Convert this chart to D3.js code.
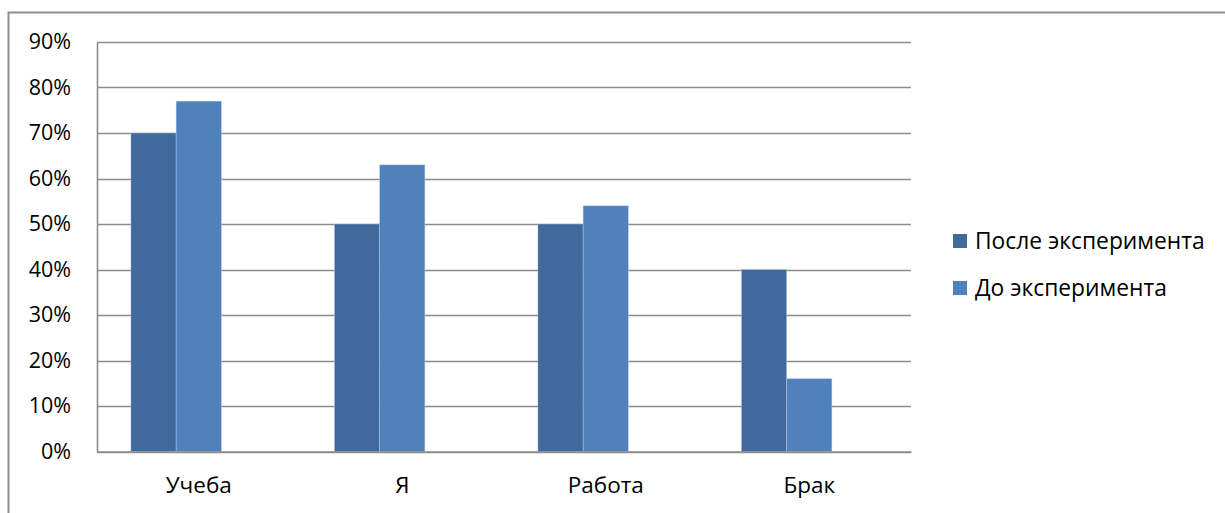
<!DOCTYPE html>
<html>
<head>
<meta charset="utf-8">
<script src="https://cdn.jsdelivr.net/npm/d3@7"></script>
<style>
  html, body { margin: 0; padding: 0; background: #fff; }
  svg { display: block; font-family: "Open Sans", "Noto Sans", sans-serif; }
</style>
</head>
<body>
<svg id="chart" width="1225" height="513"></svg>
<script>
// Categories and series values (share of respondents)
const categories = ["Учеба", "Я", "Работа", "Брак"];
const seriesNames = ["После эксперимента", "До эксперимента"];
const after = [0.70, 0.50, 0.50, 0.40];
const before = [0.77, 0.63, 0.54, 0.16];
const yTicks = [0, 0.1, 0.2, 0.3, 0.4, 0.5, 0.6, 0.7, 0.8, 0.9];

const colors = ["#41699B", "#4F81BD"];
const seriesValues = [after, before];

const svg = d3.select("#chart");
const plot = { left: 97, right: 911, top: 42, bottom: 451.5 };

// Outer chart frame (right and bottom edges fall outside the view)
svg.append("rect")
  .attr("x", 8.5).attr("y", 12.5)
  .attr("width", 1240).attr("height", 540)
  .attr("fill", "#fff").attr("stroke", "#8c8c8c").attr("stroke-width", 2);

const x = d3.scaleBand().domain(categories).range([plot.left, plot.right]).paddingInner(0).paddingOuter(0);
const y = d3.scaleLinear().domain([0, 0.9]).range([plot.bottom, plot.top]);

// Gridlines
svg.append("g").selectAll("line").data(yTicks).join("line")
  .attr("x1", plot.left).attr("x2", plot.right)
  .attr("y1", d => Math.round(y(d)) + 0.5).attr("y2", d => Math.round(y(d)) + 0.5)
  .attr("stroke", "#8c8c8c").attr("stroke-width", 1.6);

// Y axis
const yAxis = d3.axisLeft(y).tickValues(yTicks).tickFormat(d3.format(".0%")).tickSize(0).tickPadding(26);
const gy = svg.append("g").attr("transform", `translate(${plot.left},0)`).call(yAxis);
gy.select(".domain").attr("stroke", "#8c8c8c").attr("stroke-width", 1.6);
gy.selectAll("text").attr("font-size", 21.5).attr("fill", "#000").attr("font-family", "Open Sans");

// Bars: three slots per cluster (third slot empty) with a 150% gap
const groupW = x.bandwidth();
const barW = groupW / (3 + 1.5);
const groups = svg.append("g").selectAll("g").data(categories).join("g")
  .attr("transform", c => `translate(${x(c)},0)`);
seriesValues.forEach((vals, si) => {
  groups.append("rect")
    .attr("x", (c, i) => barW * 0.75 + si * barW)
    .attr("width", barW)
    .attr("y", (c, i) => y(vals[i]))
    .attr("height", (c, i) => y(0) - y(vals[i]))
    .attr("fill", colors[si])
    .attr("stroke", "#b8cce4").attr("stroke-width", 0.6).attr("stroke-opacity", 0.7);
});

// X axis labels
const xAxis = d3.axisBottom(x).tickSize(0).tickPadding(26);
const gx = svg.append("g").attr("transform", `translate(0,${plot.bottom})`).call(xAxis);
gx.select(".domain").attr("stroke", "#8c8c8c").attr("stroke-width", 1.6);
gx.selectAll("text").attr("font-size", 22.5).attr("fill", "#000").attr("font-family", "Open Sans");

// Legend
const legend = svg.append("g").selectAll("g").data(seriesNames).join("g")
  .attr("transform", (d, i) => `translate(953,${241 + i * 47})`);
legend.append("rect").attr("x", 0).attr("y", -7).attr("width", 14).attr("height", 14)
  .attr("fill", (d, i) => colors[i]);
legend.append("text").attr("x", 22).attr("y", 0).attr("dy", "0.35em")
  .attr("font-size", 22.8).attr("fill", "#000").text(d => d);
</script>
</body>
</html>
